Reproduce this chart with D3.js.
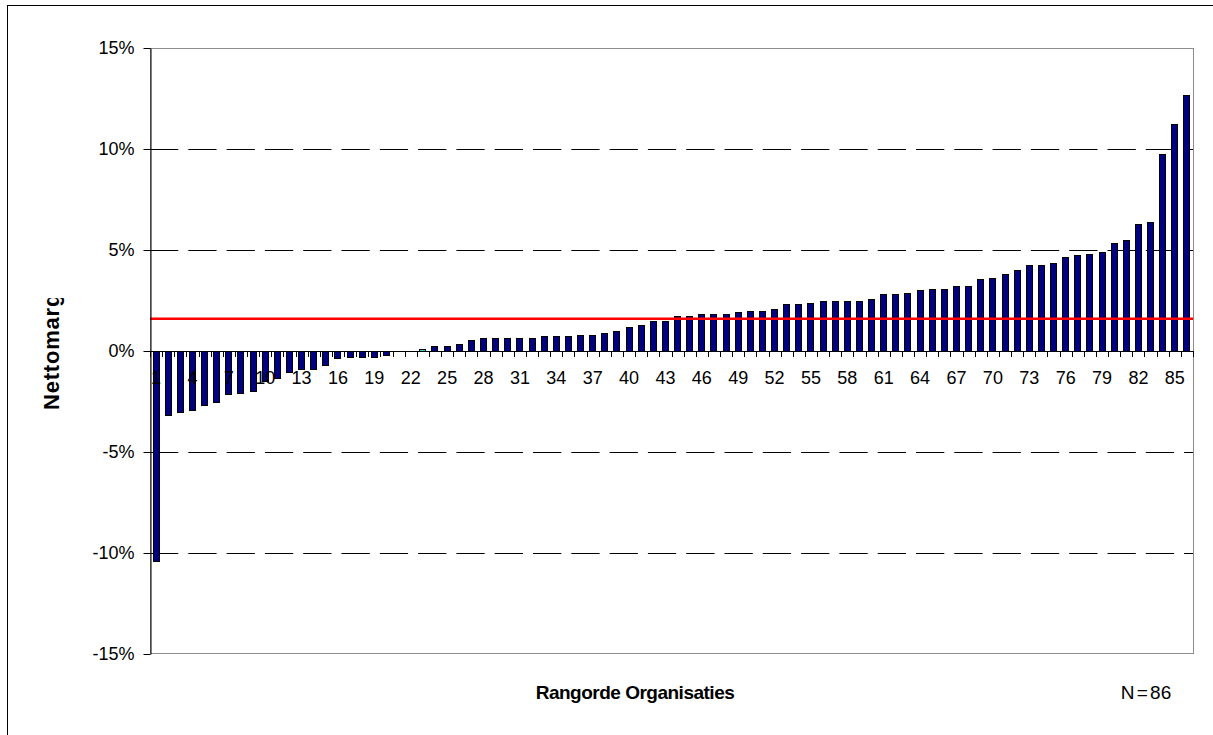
<!DOCTYPE html>
<html>
<head>
<meta charset="utf-8">
<script src="https://cdn.jsdelivr.net/npm/d3@7"></script>
<style>
  html, body { margin: 0; padding: 0; background: #fff; }
  svg { display: block; font-family: "Liberation Sans", Arial, sans-serif; }
</style>
</head>
<body>
<svg id="chart" width="1213" height="735"></svg>
<script>
// ---- data ----
const categories = d3.range(1, 87);
const values = [
  -10.4, -3.18, -3.02, -2.9, -2.69, -2.52, -2.15, -2.06, -1.98, -1.49,
  -1.34, -1.02, -0.87, -0.87, -0.7, -0.33, -0.3, -0.3, -0.3, -0.2,
  0, 0, 0.12, 0.25, 0.25, 0.35, 0.56, 0.64, 0.64, 0.64,
  0.64, 0.64, 0.74, 0.74, 0.74, 0.79, 0.79, 0.89, 0.97, 1.19,
  1.3, 1.49, 1.5, 1.74, 1.74, 1.83, 1.83, 1.83, 1.91, 2.0,
  2.0, 2.08, 2.31, 2.31, 2.39, 2.48, 2.48, 2.48, 2.48, 2.56,
  2.81, 2.81, 2.89, 3.02, 3.07, 3.07, 3.23, 3.23, 3.55, 3.63,
  3.8, 4.03, 4.27, 4.27, 4.36, 4.65, 4.74, 4.82, 4.9, 5.36,
  5.51, 6.3, 6.39, 9.77, 11.25, 12.66
];
const highlighted = [23];
const averageValue = 1.6;
const yTicks = [-15, -10, -5, 0, 5, 10, 15];
const gridTicks = [-10, -5, 5, 10];
const xLabelEvery = 3;
const yTitle = "Nettomarge";
const xTitle = "Rangorde Organisaties";
const nLabel = "N = 86";

// ---- layout ----
const svg = d3.select("#chart");
const plot = { left: 150, right: 1193, top: 48, bottom: 654 };

const x = d3.scaleBand()
  .domain(categories)
  .range([plot.left, plot.right])
  .paddingInner(0.42)
  .paddingOuter(0.21);

const y = d3.scaleLinear()
  .domain([-15, 15])
  .range([plot.bottom, plot.top]);

// outer chart frame
svg.append("rect")
  .attr("x", 7.5).attr("y", 5.5)
  .attr("width", 1220).attr("height", 740)
  .attr("fill", "none").attr("stroke", "#000").attr("stroke-width", 1);

// plot area border
svg.append("rect")
  .attr("x", plot.left + 0.5).attr("y", plot.top + 0.5)
  .attr("width", plot.right - plot.left).attr("height", plot.bottom - plot.top - 1)
  .attr("fill", "none").attr("stroke", "#8c8c8c").attr("stroke-width", 1);

// dashed gridlines
svg.append("g")
  .selectAll("line")
  .data(gridTicks)
  .join("line")
  .attr("x1", plot.left).attr("x2", plot.right)
  .attr("y1", d => Math.round(y(d)) + 0.5)
  .attr("y2", d => Math.round(y(d)) + 0.5)
  .attr("stroke", "#000")
  .attr("stroke-width", 1)
  .attr("stroke-dasharray", "28.3,10");

// bars
const barData = categories.map((c, i) => ({ c, v: values[i] }));
svg.append("g")
  .selectAll("rect")
  .data(barData.filter(d => d.v !== 0))
  .join("rect")
  .attr("x", d => Math.round(x(d.c)) + 0.5)
  .attr("width", Math.round(x.bandwidth()) - 1)
  .attr("y", d => Math.round(y(Math.max(0, d.v))) + 0.5)
  .attr("height", d => Math.max(1, Math.round(Math.abs(y(d.v) - y(0)))))
  .attr("fill", d => highlighted.includes(d.c) ? "#33cccc" : "#000080")
  .attr("stroke", "#000")
  .attr("stroke-width", 1);

// x tick labels (every 3rd category), drawn over the bars
const xAxis = d3.axisBottom(x)
  .tickValues(categories.filter(c => (c - 1) % xLabelEvery === 0))
  .tickSize(0)
  .tickPadding(20);

const gx = svg.append("g")
  .attr("transform", `translate(0,${y(0)})`)
  .call(xAxis);
gx.select(".domain").remove();
gx.selectAll("text")
  .attr("font-size", 18)
  .attr("font-family", "Liberation Sans, Arial, sans-serif")
  .attr("fill", "#000");

// minor category tick marks on zero line
const boundaries = categories.map(c => x(c) - (x.step() - x.bandwidth()) / 2)
  .concat([plot.right]);
svg.append("g")
  .selectAll("line")
  .data(boundaries)
  .join("line")
  .attr("x1", d => Math.round(d) + 0.5).attr("x2", d => Math.round(d) + 0.5)
  .attr("y1", Math.round(y(0))).attr("y2", Math.round(y(0)) + 6)
  .attr("stroke", "#000").attr("stroke-width", 1);

// zero line
svg.append("line")
  .attr("x1", plot.left).attr("x2", plot.right)
  .attr("y1", Math.round(y(0)) + 0.5).attr("y2", Math.round(y(0)) + 0.5)
  .attr("stroke", "#000").attr("stroke-width", 1);

// average line
svg.append("line")
  .attr("x1", plot.left).attr("x2", plot.right)
  .attr("y1", y(averageValue)).attr("y2", y(averageValue))
  .attr("stroke", "#ff0000").attr("stroke-width", 2.5);

// y axis
const yAxis = d3.axisLeft(y)
  .tickValues(yTicks)
  .tickFormat(d => d + "%")
  .tickSize(7)
  .tickPadding(9)
  .tickSizeOuter(0);
const gy = svg.append("g")
  .attr("transform", `translate(${plot.left + 0.5},0)`)
  .call(yAxis);
gy.select(".domain").attr("stroke", "#000");
gy.selectAll(".tick line").attr("stroke", "#000");
gy.selectAll("text")
  .attr("font-size", 18)
  .attr("font-family", "Liberation Sans, Arial, sans-serif")
  .attr("fill", "#000");

// y title (clipped like the original)
svg.append("clipPath").attr("id", "yclip")
  .append("rect").attr("x", 0).attr("y", 298).attr("width", 120).attr("height", 300);
svg.append("g").attr("clip-path", "url(#yclip)")
  .append("text")
  .attr("transform", "translate(59,410) rotate(-90)")
  .attr("text-anchor", "start")
  .attr("font-size", 22)
  .attr("font-weight", "bold")
  .attr("letter-spacing", 0.8)
  .attr("fill", "#000")
  .text(yTitle);

// x title
svg.append("text")
  .attr("x", 635).attr("y", 699)
  .attr("text-anchor", "middle")
  .attr("font-size", 19)
  .attr("font-weight", "bold")
  .attr("letter-spacing", -0.5)
  .attr("fill", "#000")
  .text(xTitle);

// N label
svg.append("text")
  .attr("x", 1146).attr("y", 699)
  .attr("text-anchor", "middle")
  .attr("font-size", 19)
  .attr("word-spacing", -3)
  .attr("fill", "#000")
  .text(nLabel);
</script>
</body>
</html>
